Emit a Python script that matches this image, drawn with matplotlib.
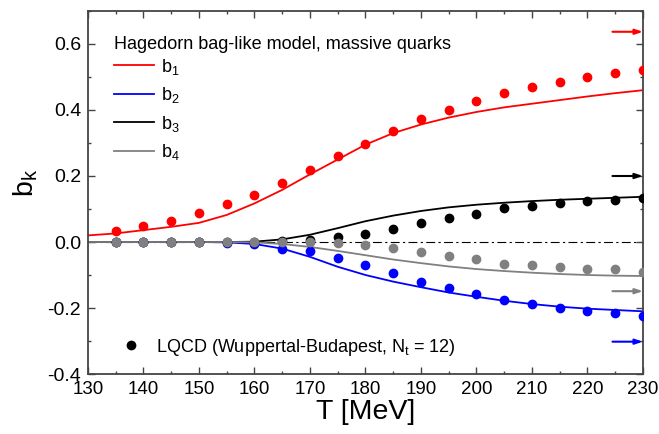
import matplotlib
matplotlib.use('Agg')
import matplotlib.pyplot as plt
from matplotlib.lines import Line2D

plt.rcParams['font.family'] = ['Liberation Sans', 'DejaVu Sans']
plt.rcParams['mathtext.default'] = 'regular'

# Hagedorn bag-like model curves
T_model = [130, 135, 140, 145, 150, 155, 160, 165, 170, 175, 180,
           185, 190, 195, 200, 205, 210, 215, 220, 225, 230]
b1_model = [0.020, 0.026, 0.036, 0.046, 0.058, 0.082, 0.117, 0.158, 0.205, 0.250, 0.295,
            0.330, 0.356, 0.377, 0.394, 0.408, 0.419, 0.430, 0.441, 0.451, 0.460]
b2_model = [0.0, 0.0, 0.0, 0.0, 0.0, -0.001, -0.006, -0.020, -0.045, -0.075, -0.100,
            -0.120, -0.137, -0.153, -0.166, -0.178, -0.188, -0.196, -0.202, -0.206, -0.210]
b3_model = [0.0, 0.0, 0.0, 0.0, 0.0, 0.0, 0.001, 0.008, 0.022, 0.042, 0.063,
            0.080, 0.094, 0.105, 0.113, 0.119, 0.124, 0.128, 0.131, 0.134, 0.137]
b4_model = [0.0, 0.0, 0.0, 0.0, 0.0, 0.0, -0.001, -0.006, -0.015, -0.027, -0.040,
            -0.053, -0.064, -0.074, -0.082, -0.088, -0.093, -0.097, -0.100, -0.102, -0.103]

# lattice points (Wuppertal-Budapest, Nt = 12)
T_lat = [135, 140, 145, 150, 155, 160, 165, 170, 175, 180,
         185, 190, 195, 200, 205, 210, 215, 220, 225, 230]
b1_lat = [0.033, 0.048, 0.065, 0.087, 0.115, 0.142, 0.180, 0.218, 0.261, 0.298,
          0.336, 0.372, 0.400, 0.427, 0.452, 0.469, 0.485, 0.500, 0.512, 0.522]
b2_lat = [0.0, 0.0, 0.0, 0.0, -0.002, -0.007, -0.020, -0.027, -0.048, -0.070,
          -0.093, -0.120, -0.140, -0.158, -0.177, -0.189, -0.199, -0.209, -0.216, -0.225]
b3_lat = [0.0, 0.0, 0.0, 0.0, 0.0, 0.0, 0.003, 0.005, 0.014, 0.023,
          0.038, 0.058, 0.072, 0.086, 0.102, 0.109, 0.117, 0.124, 0.127, 0.134]
b4_lat = [0.0, 0.0, 0.0, 0.0, 0.0, 0.0, 0.0, 0.0, -0.002, -0.009,
          -0.018, -0.031, -0.041, -0.053, -0.066, -0.070, -0.077, -0.082, -0.083, -0.090]

# Stefan-Boltzmann limits, shown as arrows at the right edge
sb_limits = [0.637, -0.302, 0.200, -0.149]

labels = ['b$_1$', 'b$_2$', 'b$_3$', 'b$_4$']
colors = ['#ff0000', '#0000ff', '#000000', '#808080']

fig = plt.figure(figsize=(6.59, 4.34), dpi=100)
ax = fig.add_axes([0.1335, 0.1382, 0.8422, 0.8365])

ax.axhline(0, color='black', lw=0.8, ls=(0, (8, 3, 2, 3)), zorder=1)

models = [b1_model, b2_model, b3_model, b4_model]
lats = [b1_lat, b2_lat, b3_lat, b4_lat]
handles = []
for m, lab, c in zip(models, labels, colors):
    h, = ax.plot(T_model, m, color=c, lw=1.3, label=lab, zorder=2)
    handles.append(h)
for d, c in zip(lats, colors):
    ax.plot(T_lat, d, 'o', color=c, ms=6, mec=c, zorder=3)

for v, c in zip(sb_limits, colors):
    ax.annotate('', xy=(230, v), xytext=(224.5, v),
                arrowprops=dict(arrowstyle='-|>,head_length=0.45,head_width=0.15',
                                color=c, lw=1.5, shrinkA=0, shrinkB=0),
                annotation_clip=False)

ax.set_xlim(130, 230)
ax.set_ylim(-0.4, 0.7)
ax.set_xticks(range(130, 231, 10))
ax.set_xticks(range(135, 231, 10), minor=True)
ax.set_yticks([-0.4, -0.2, 0.0, 0.2, 0.4, 0.6])
ax.set_yticks([-0.3, -0.1, 0.1, 0.3, 0.5, 0.7], minor=True)
ax.yaxis.set_major_formatter(plt.FormatStrFormatter('%.1f'))
ax.tick_params(which='both', direction='in', top=True, right=True, color='#444444', width=1)
ax.tick_params(which='major', length=5)
ax.tick_params(which='minor', length=2.5)
ax.tick_params(axis='x', labelsize=13.5, pad=5)
ax.tick_params(axis='y', labelsize=14, pad=5)
for s in ax.spines.values():
    s.set_linewidth(1.3)
    s.set_color('#444444')

ax.set_xlabel('T [MeV]', fontsize=20.5, labelpad=1)
ax.set_ylabel('b$_k$', fontsize=20.5, labelpad=5, y=0.525)

leg1 = ax.legend(handles=handles, title='Hagedorn bag-like model, massive quarks',
                 loc='upper left', bbox_to_anchor=(0.025, 0.967), frameon=False,
                 fontsize=13, title_fontsize=13, alignment='left',
                 handlelength=2.2, handletextpad=0.35, labelspacing=0.47,
                 borderpad=0.2)
# tighter gap between the title and the first entry
leg1._legend_box.sep = 3.0
ax.add_artist(leg1)

lqcd = Line2D([], [], ls='none', marker='o', color='black', ms=6)
ax.legend(handles=[lqcd], labels=['LQCD (Wuppertal-Budapest, N$_t$ = 12)'],
          loc='lower left', bbox_to_anchor=(0.03, 0.01), frameon=False,
          fontsize=13, handlelength=1.5, handletextpad=0.65, borderpad=0.2)

fig.savefig('out.png', dpi=100)
